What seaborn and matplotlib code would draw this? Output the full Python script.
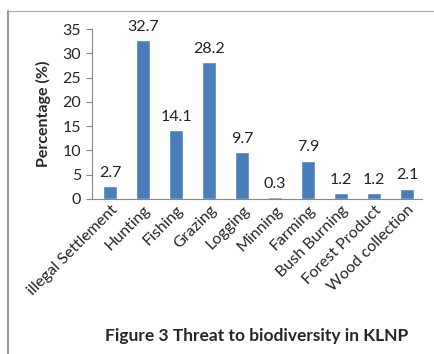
import matplotlib
matplotlib.use("Agg")
import matplotlib.pyplot as plt
import seaborn as sns
import pandas as pd
from matplotlib.lines import Line2D

threats = ["illegal Settlement", "Hunting", "Fishing", "Grazing", "Logging",
           "Minning", "Farming", "Bush Burning", "Forest Product", "Wood collection"]
percent = [2.7, 32.7, 14.1, 28.2, 9.7, 0.3, 7.9, 1.2, 1.2, 2.1]

df = pd.DataFrame({"Threat": threats, "Percentage": percent})

sns.set_style("white")
plt.rcParams["font.family"] = ["Lato", "DejaVu Sans"]

fig = plt.figure(figsize=(4.34, 3.54), dpi=100)
ax = fig.add_axes([0.212, 0.438, 0.76, 0.48])

sns.barplot(data=df, x="Threat", y="Percentage", color="#4a7ebb",
            width=0.42, saturation=1, ax=ax)

for i, v in enumerate(percent):
    ax.text(i, v + 1.3, f"{v}", ha="center", va="bottom", fontsize=11.5, color="#222222")

ax.set_ylim(0, 35)
ax.set_yticks(range(0, 36, 5))
ax.set_xlim(-0.55, 9.45)
ax.set_xlabel("")
ax.set_ylabel("Percentage (%)", fontsize=11.5, fontweight="bold", labelpad=8)
ax.tick_params(axis="y", labelsize=11.5, length=4, color="#888888", direction="out",
               left=True, pad=4)
ax.tick_params(axis="x", labelsize=11.5, length=0, pad=3)
plt.setp(ax.get_xticklabels(), rotation=45, ha="right", rotation_mode="anchor")

for s in ["top", "right"]:
    ax.spines[s].set_visible(False)
for s in ["left", "bottom"]:
    ax.spines[s].set_color("#888888")
    ax.spines[s].set_linewidth(0.8)

fig.text(0.592, 0.05, "Figure 3 Threat to biodiversity in KLNP", ha="center",
         va="center", fontsize=12.5, fontweight="bold")

# outer frame (left and top edges)
fig.add_artist(Line2D([0.018, 0.018], [0.0, 0.969], color="#999999", lw=1.5,
                      transform=fig.transFigure))
fig.add_artist(Line2D([0.018, 1.0], [0.969, 0.969], color="#aaaaaa", lw=0.8,
                      transform=fig.transFigure))

fig.savefig("out.png", dpi=100)
